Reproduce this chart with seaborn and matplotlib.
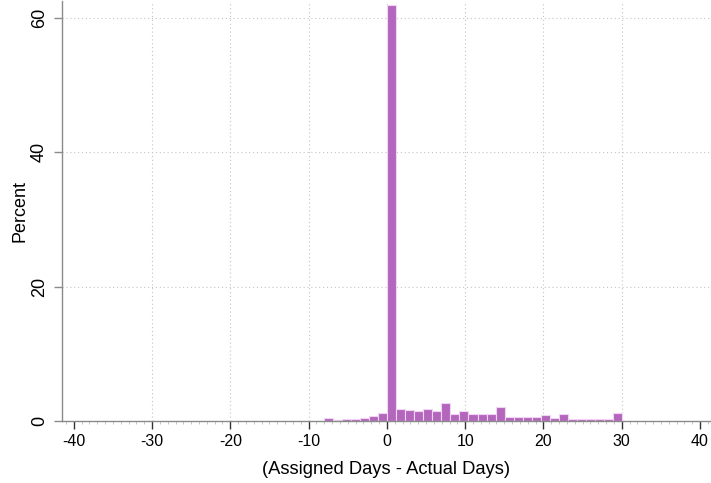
import numpy as np
import pandas as pd
import matplotlib
matplotlib.use("Agg")
import matplotlib.pyplot as plt
import seaborn as sns

# histogram bins (Stata style: 33 bins from -8 to 30)
bin_lo = -8
bin_hi = 30
n_bins = 33
pct = [0.40, 0.15, 0.25, 0.30, 0.45, 0.75, 1.15,
       61.9,
       1.85, 1.60, 1.45, 1.85, 1.55, 2.75, 1.05, 1.55, 1.00, 1.00, 1.00, 2.05,
       0.60, 0.60, 0.55, 0.60, 0.90, 0.50, 1.05, 0.35, 0.35, 0.30, 0.30, 0.30, 1.20]
x_ticks = [-40, -30, -20, -10, 0, 10, 20, 30, 40]
y_ticks = [0, 20, 40, 60]

edges = np.linspace(bin_lo, bin_hi, n_bins + 1)
centers = (edges[:-1] + edges[1:]) / 2
df = pd.DataFrame({"diff": centers, "pct": pct})

sns.set_style("white")
plt.rcParams["font.family"] = ["Liberation Sans", "DejaVu Sans"]
plt.rcParams["axes.unicode_minus"] = False

fig = plt.figure(figsize=(7.11, 4.83), dpi=100)
ax = fig.add_axes([62 / 711, 62 / 483, 649 / 711, 420 / 483])

# grid lines like Stata: horizontal at 20/40/60, vertical only at inner ticks
grid_kw = dict(linestyle=(0, (1, 2.5)), color="#c4c4c4", linewidth=0.8, zorder=0)
for yv in y_ticks[1:]:
    ax.axhline(yv, **grid_kw)
for xv in x_ticks[1:-1]:
    ax.axvline(xv, **grid_kw)

sns.histplot(data=df, x="diff", weights="pct", bins=n_bins,
             binrange=(bin_lo, bin_hi), ax=ax,
             color="#b466bd", edgecolor="#f0d6f2", linewidth=0.8, alpha=1,
             zorder=2)

ax.set_xlim(-41.5, 41.4)
ax.set_ylim(0, 62.5)
ax.set_xticks(x_ticks)
ax.set_xticks(np.arange(-41, 42, 1), minor=True)
ax.set_yticks(y_ticks)
ax.set_yticklabels([str(v) for v in y_ticks], rotation=90, va="center")

for s in ["top", "right"]:
    ax.spines[s].set_visible(False)
for s in ["left", "bottom"]:
    ax.spines[s].set_color("#8a8a8a")
    ax.spines[s].set_linewidth(1.0)

ax.tick_params(axis="x", which="major", bottom=True, length=6, width=1,
               color="#333333", labelsize=11.5, labelcolor="black", pad=3)
ax.tick_params(axis="x", which="minor", bottom=True, length=2, width=0.6,
               color="#bbbbbb")
ax.tick_params(axis="y", which="major", left=True, length=6, width=1,
               color="#8a8a8a", labelsize=13, labelcolor="black", pad=4)

ax.set_xlabel("(Assigned Days - Actual Days)", fontsize=13.2, labelpad=9,
              color="black")
ax.set_ylabel("Percent", fontsize=13, labelpad=2, color="black")

fig.savefig("out.png", dpi=100)
